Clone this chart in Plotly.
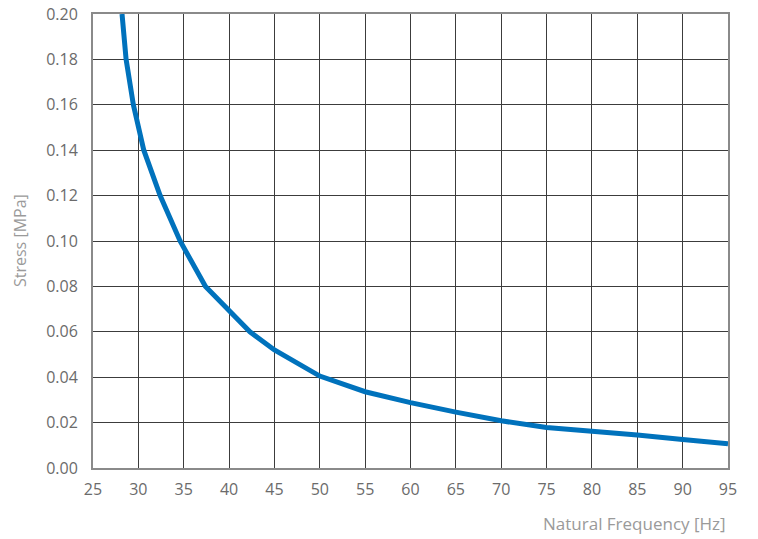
import plotly.graph_objects as go

freq = [28.2, 28.65, 29.45, 30.6, 32.4, 34.6, 37.4, 40, 42.3, 45, 50, 55, 60, 65, 70, 75, 80, 85, 90, 95]
stress = [0.20, 0.18, 0.16, 0.14, 0.12, 0.10, 0.08, 0.069, 0.06, 0.052, 0.0405, 0.0336, 0.0288, 0.0246, 0.0208, 0.0178, 0.0164, 0.0145, 0.0126, 0.0107]

x_ticks = list(range(25, 100, 5))
y_ticks = [0.00, 0.02, 0.04, 0.06, 0.08, 0.10, 0.12, 0.14, 0.16, 0.18, 0.20]
y_labels = ["%.2f" % v for v in y_ticks]

fig = go.Figure()
fig.add_trace(go.Scatter(x=freq, y=stress, mode="lines",
                         line=dict(color="#0072BC", width=5), hoverinfo="skip"))

FONT = "Open Sans, sans-serif"
tickfont = dict(family=FONT, size=16, color="#6b6b6b")
fig.update_layout(
    width=758, height=539,
    margin=dict(l=93, r=30, t=14, b=71, autoexpand=False),
    paper_bgcolor="white", plot_bgcolor="white",
    showlegend=False,
    xaxis=dict(range=[25, 95], tickvals=x_ticks, ticktext=[str(v) for v in x_ticks],
               showgrid=True, gridcolor="#3c3c3c", gridwidth=1,
               showline=True, linecolor="#8a8a8a", linewidth=2, mirror=True,
               ticks="", tickfont=tickfont, ticklabelstandoff=6, zeroline=False,
               ticklabeloverflow="allow", automargin=False),
    yaxis=dict(range=[0, 0.20], tickvals=y_ticks, ticktext=y_labels,
               showgrid=True, gridcolor="#3c3c3c", gridwidth=1,
               showline=True, linecolor="#8a8a8a", linewidth=2, mirror=True,
               ticks="", tickfont=tickfont, ticklabelstandoff=10, zeroline=False,
               ticklabeloverflow="allow", automargin=False),
    annotations=[
        dict(text="Natural Frequency [Hz]", xref="paper", yref="paper", x=1, y=0,
             xanchor="right", yanchor="top", yshift=-42, showarrow=False,
             font=dict(family=FONT, size=17, color="#9a9a9a")),
        dict(text="Stress [MPa]", xref="paper", yref="paper", x=0, y=0.5,
             xanchor="center", yanchor="middle", xshift=-73, textangle=-90, showarrow=False,
             font=dict(family=FONT, size=16, color="#9a9a9a")),
    ],
)
fig.write_html("out.html", config={"displayModeBar": False},
               post_script="document.body.style.margin='0';document.body.style.overflow='hidden';")
